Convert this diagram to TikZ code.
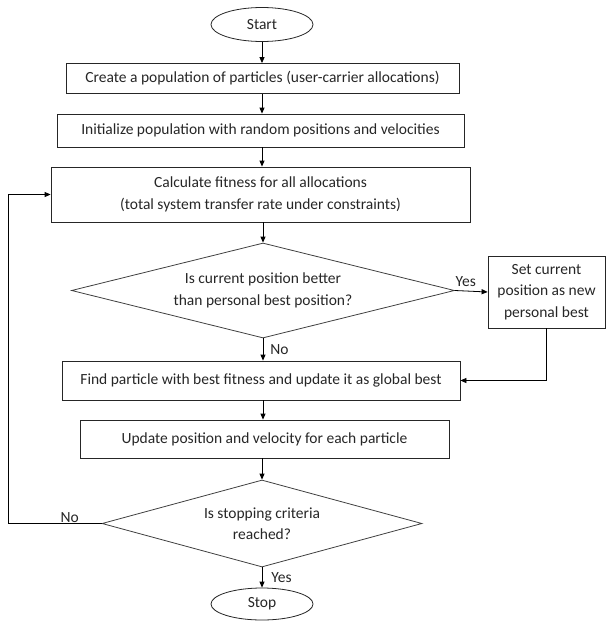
\documentclass[tikz,border=0pt]{standalone}
\usepackage{fontspec}
\setmainfont{Carlito}
\usetikzlibrary{shapes.geometric,arrows.meta,calc}
\begin{document}
\begin{tikzpicture}[x=1pt,y=1pt,
  font=\fontsize{15.5}{21.5}\selectfont,
  every node/.style={text=black!85},
  stepbox/.style={draw=black!85,line width=0.8pt,rectangle,inner sep=0pt,align=center},
  term/.style={draw=black!85,line width=0.8pt,ellipse,inner sep=0pt},
  decide/.style={draw=black!75,line width=0.8pt,diamond,inner sep=0pt,align=center},
  conn/.style={draw=black,line width=0.8pt,-{Triangle[length=6pt,width=5pt]}},
  lab/.style={inner sep=1pt}]
\useasboundingbox (0,0) rectangle (606,-621);
\node[term, minimum width=102pt, minimum height=34pt] (start) at (262,-24.5) {Start};
\node[stepbox, minimum width=393pt, minimum height=30pt] (b1) at (262.5,-78.5) {Create a population of particles (user-carrier allocations)};
\node[stepbox, minimum width=407pt, minimum height=33pt] (b2) at (260.5,-130.5) {Initialize population with random positions and velocities};
\node[stepbox, minimum width=419pt, minimum height=55pt] (b3) at (260.5,-194.5) {Calculate fitness for all allocations\\(total system transfer rate under constraints)};
\node[decide, aspect=4, minimum width=383pt, minimum height=95pt] (d1) at (263,-290.5) {Is current position better\\than personal best position?};
\node[stepbox, minimum width=117pt, minimum height=72pt] (side) at (546.5,-292) {Set current\\position as new\\personal best};
\node[stepbox, minimum width=398pt, minimum height=39pt] (b4) at (261,-380.5) {Find particle with best fitness and update it as global best};
\node[stepbox, minimum width=369pt, minimum height=38pt] (b5) at (264.5,-439) {Update position and velocity for each particle};
\node[decide, aspect=3.7, minimum width=320pt, minimum height=87pt] (d2) at (262,-523.5) {Is stopping criteria\\reached?};
\node[term, minimum width=102pt, minimum height=32pt] (stop) at (262,-604) {Stop};
\coordinate (loopA) at (8,-523.5);
\coordinate (loopB) at (8,-194.5);

\draw[conn] (start.south) -- (start.south |- b1.north);
\draw[conn] (b1.south -| start.south) -- (start.south |- b2.north);
\draw[conn] (b2.south -| start.south) -- (start.south |- b3.north);
\draw[conn] (b3.south -| d1.north) -- (d1.north);
\draw[conn] (d1.south) -- (d1.south |- b4.north) node[lab, midway, right, xshift=6pt] {No};
\draw[conn] (d1.east) -- (side.west) node[lab, pos=0.33, above, yshift=3pt] {Yes};
\draw[conn] (side.south) |- (b4.east);
\draw[conn] (b4.south -| d1.south) -- (d1.south |- b5.north);
\draw[conn] (b5.south -| d2.north) -- (d2.north);
\draw[conn] (d2.south) -- (stop.north) node[lab, midway, right, xshift=8pt] {Yes};
\draw[conn] (d2.west) -- (loopA) -- (loopB) -- (b3.west);
\node[lab, above] (nolab) at ($(d2.west)!0.34!(loopA)$) {No};
\end{tikzpicture}
\end{document}
